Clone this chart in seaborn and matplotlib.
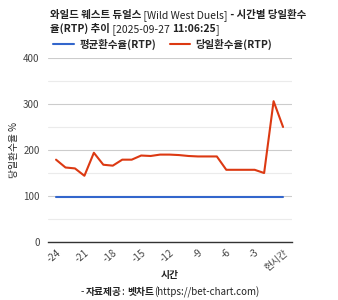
import numpy as np
import pandas as pd
import matplotlib
matplotlib.use("Agg")
import matplotlib.pyplot as plt
import seaborn as sns
from matplotlib.lines import Line2D

sns.set_theme(style="white")
plt.rcParams['font.family'] = ['Noto Sans CJK KR', 'DejaVu Sans']

# 데이터
hours = list(range(-24, 1))
avg_rtp = [97] * 25
day_rtp = [179, 162, 160, 144, 194, 168, 166, 179, 179, 188, 187, 190, 190,
           189, 187, 186, 186, 186, 157, 157, 157, 157, 150, 306, 250]
tick_pos = [-24, -21, -18, -15, -12, -9, -6, -3, 0]
tick_labels = ['-24', '-21', '-18', '-15', '-12', '-9', '-6', '-3', '현시간']
series_names = ['평균환수율(RTP)', '당일환수율(RTP)']
colors = ['#3366cc', '#dc3912']

df = pd.DataFrame({
    '시간': hours * 2,
    'rtp': avg_rtp + day_rtp,
    'series': [series_names[0]] * 25 + [series_names[1]] * 25,
})

fig = plt.figure(figsize=(3.38, 3.0), dpi=100)
ax = fig.add_axes([0.142, 0.193, 0.722, 0.614])

sns.lineplot(data=df, x='시간', y='rtp', hue='series', palette=colors,
             linewidth=1.5, ax=ax, legend=False)

ax.set_xlim(-24.85, 0.95)
ax.set_ylim(0, 400)
ax.set_yticks([0, 100, 200, 300, 400])
ax.set_yticks([50, 150, 250, 350], minor=True)
ax.grid(True, which='major', axis='y', color='#cccccc', linewidth=0.8)
ax.grid(True, which='minor', axis='y', color='#ebebeb', linewidth=0.8)
ax.set_axisbelow(True)
for s in ['top', 'right', 'left']:
    ax.spines[s].set_visible(False)
ax.spines['bottom'].set_color('#333333')
ax.spines['bottom'].set_linewidth(1)
ax.tick_params(axis='y', length=0, labelsize=7, labelcolor='#444444', pad=6)
ax.set_xticks(tick_pos)
ax.set_xticklabels(tick_labels, rotation=40, ha='right', rotation_mode='anchor')
ax.tick_params(axis='x', length=0, labelsize=7, labelcolor='#444444', pad=4)
ax.set_xlabel('')
ax.set_ylabel('당일환수율 %', fontsize=7, color='#222222')
ax.yaxis.set_label_coords(-0.12, 0.5)

fig.text(170 / 338, 1 - 275 / 300, '시간', fontsize=7, fontweight='bold',
         color='#222222', ha='center', va='center')


# 굵게/보통 섞인 텍스트를 이어 붙이기
def chain_text(parts, size=7.5):
    items = []
    for txt, w in parts:
        items.append(fig.text(0, 0, txt, fontsize=size, fontweight=w,
                              color='#222222', va='baseline'))
    return items


def place_chain(items, x, y, center=False):
    fig.canvas.draw()
    r = fig.canvas.get_renderer()
    widths = [it.get_window_extent(r).width for it in items]
    W = fig.bbox.width
    px = x * W - (sum(widths) / 2 if center else 0)
    for it, w in zip(items, widths):
        it.set_position((px / W, y))
        px += w


line1 = chain_text([('와일드 웨스트 듀얼스', 'bold'), (' [Wild West Duels]', 'normal'),
                    (' - 시간별 당일환수', 'bold')])
line2 = chain_text([('율(RTP) 추이', 'bold'), (' [2025-09-27 ', 'normal'),
                    ('11:06:25', 'bold'), (']', 'normal')])
src = chain_text([('- ', 'normal'), ('자료제공', 'bold'), (': ', 'normal'),
                  ('벳차트', 'bold'), ('(https://bet-chart.com)', 'normal')], size=7)
place_chain(line1, 50 / 338, 1 - 18 / 300)
place_chain(line2, 50 / 338, 1 - 32 / 300)
place_chain(src, 170 / 338, 1 - 295 / 300, center=True)

# 범례
handles = [Line2D([], [], color=c, linewidth=1.5) for c in colors]
fig.legend(handles, series_names, loc='center left', bbox_to_anchor=(0.13, 1 - 44 / 300),
           ncol=2, frameon=False, prop={'size': 7.5, 'weight': 'bold'},
           handlelength=2.0, handletextpad=0.5, columnspacing=1.3)

fig.savefig('out.png', dpi=100)
